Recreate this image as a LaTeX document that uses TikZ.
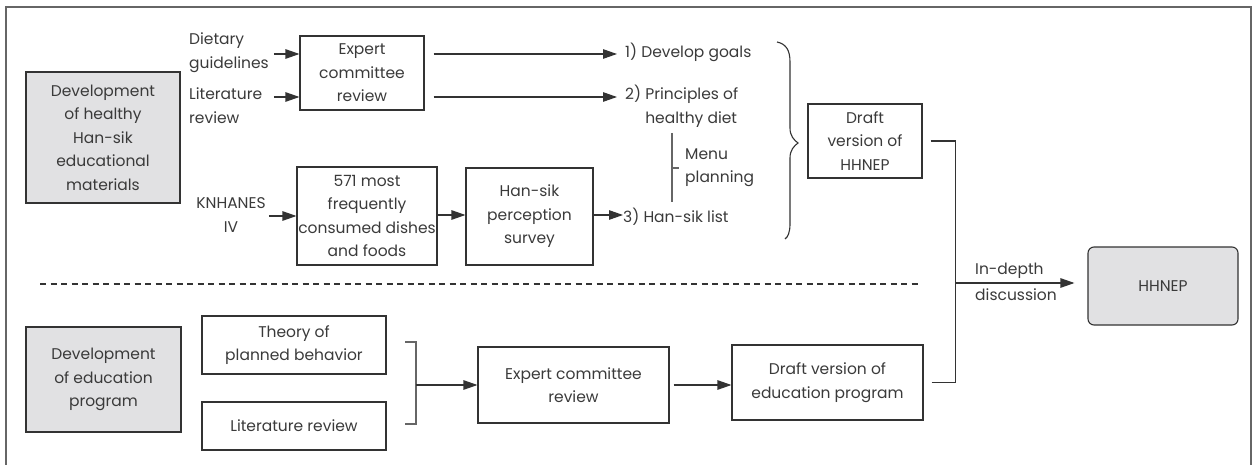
\documentclass[tikz,border=0pt]{standalone}
\usepackage{fontspec}
\setmainfont{Poppins}
\usetikzlibrary{arrows.meta,calc}
\definecolor{txt}{HTML}{3A3A3A}
\definecolor{ln}{HTML}{333333}
\definecolor{gline}{HTML}{666666}
\definecolor{boxgray}{HTML}{E1E1E3}
\tikzset{
  every node/.style={font=\fontsize{15.5}{23.5}\selectfont, text=txt},
  box/.style={draw=ln, line width=1.1pt, inner sep=0pt, align=center},
  graybox/.style={box, fill=boxgray},
  lbl/.style={inner sep=0pt, align=left},
  clbl/.style={inner sep=0pt, align=center},
  conn/.style={draw=ln, line width=1.1pt},
  arr/.style={conn, -{Triangle[length=14pt,width=9.5pt]}},
}
\begin{document}
\begin{tikzpicture}[x=1pt,y=-1pt]
\useasboundingbox (0,0) rectangle (1255,465);
% frame
\draw[draw=gline, line width=1.2pt] (6,466) -- (6,7) -- (1251,7) -- (1251,466);

% top section
\node[graybox, minimum width=154pt, minimum height=131pt] (devH) at (103,137.5)
  {Development\\of healthy\\Han-sik\\educational\\materials};
\node[lbl, anchor=west] (diet) at (189,52.5) {Dietary\\guidelines};
\node[lbl, anchor=west] (lit) at (189,105.5) {Literature\\review};
\node[box, minimum width=124pt, minimum height=74pt] (exp1) at (362,73)
  {Expert\\committee\\review};
\node[lbl, anchor=west] (g1) at (625,52) {1) Develop goals};
\node[lbl, anchor=north west] (g2) at (625,85) {2) Principles of\\\phantom{2) }healthy diet};
\node[clbl] (kn) at (231,215) {KNHANES\\IV};
\node[box, minimum width=140pt, minimum height=98pt] (b571) at (367,216)
  {571 most\\frequently\\consumed dishes\\and foods};
\node[box, minimum width=127pt, minimum height=97pt] (hs) at (529.5,216.5)
  {Han-sik\\perception\\survey};
\node[lbl, anchor=west] (g3) at (623,217) {3) Han-sik list};
\node[lbl, anchor=west] (menu) at (685,167.5) {Menu\\planning};
\coordinate (mtop) at (672,133);
\coordinate (mbot) at (672,202);
\coordinate (mtick) at (672,168);
\draw[draw=gline, line width=1.1pt] (mtop) -- (mbot);
\draw[draw=gline, line width=1.1pt] (mtick) -- ++(7,0);

\draw[arr] ([xshift=5pt]diet.east |- 0,54) -- (exp1.west |- 0,54);
\draw[arr] ([xshift=5pt]diet.east |- 0,97) -- (exp1.west |- 0,97);
\draw[arr] ([xshift=9pt]exp1.east |- 0,54) -- ([xshift=-8pt]g1.west |- 0,54);
\draw[arr] ([xshift=9pt]exp1.east |- 0,97) -- ([xshift=-8pt]g2.west |- 0,97);
\draw[arr] ([xshift=3pt]kn.east |- 0,216) -- (b571.west |- 0,216);
\draw[arr] (b571.east |- 0,215) -- (hs.west |- 0,215);
\draw[arr] (hs.east |- 0,215) -- (g3.west |- 0,215);

% brace
\draw[draw=ln, line width=1.1pt] (777,42) .. controls (786,44) and (790,50) .. (790,62)
  -- (790,128) .. controls (790,136) and (794,140) .. (798,143)
  .. controls (794,146) and (790,150) .. (790,158)
  -- (790,224) .. controls (790,232) and (788,237) .. (785,239);

\node[box, minimum width=114pt, minimum height=74pt] (dH) at (865,141)
  {Draft\\version of\\HHNEP};

% dashed separator
\coordinate (dl) at (40,284);
\coordinate (dr) at (918,284);
\draw[draw=ln, line width=1.1pt, dash pattern=on 6pt off 4.5pt] (dl) -- (dr);

% bottom section
\node[graybox, minimum width=155pt, minimum height=105pt] (devE) at (103.5,379.5)
  {Development\\of education\\program};
\node[box, minimum width=184pt, minimum height=58pt] (th) at (294,345)
  {Theory of\\planned behavior};
\node[box, minimum width=184pt, minimum height=48pt] (lr) at (294,426)
  {Literature review};
\node[box, minimum width=191pt, minimum height=76pt] (ex2) at (573.5,385)
  {Expert committee\\review};
\node[box, minimum width=191pt, minimum height=75pt] (dE) at (827.5,382.5)
  {Draft version of\\education program};
\coordinate (bt) at (416,342);
\coordinate (bb) at (416,424);
\coordinate (bm) at (416,385);
\draw[draw=gline, line width=1.1pt] ([xshift=-11pt]bt) -- (bt) -- (bb) -- ([xshift=-11pt]bb);
\draw[arr] (bm) -- (ex2.west |- bm);
\draw[arr] ([xshift=4pt]ex2.east) -- (dE.west |- ex2.east);

% merge to HHNEP
\node[graybox, rounded corners=6pt, minimum width=150pt, minimum height=78pt] (hh) at (1163,286) {HHNEP};
\coordinate (j) at (955.5,283);
\draw[conn] ([xshift=8pt]dH.east) -| (j);
\draw[conn] ([xshift=8pt]dE.east) -| (j);
\draw[arr] (j) -- ([xshift=-13pt]hh.west |- j);
\node[lbl, anchor=west] (in1) at (975,271) {In-depth};
\node[lbl, anchor=west] (in2) at (975,295) {discussion};
\end{tikzpicture}
\end{document}
